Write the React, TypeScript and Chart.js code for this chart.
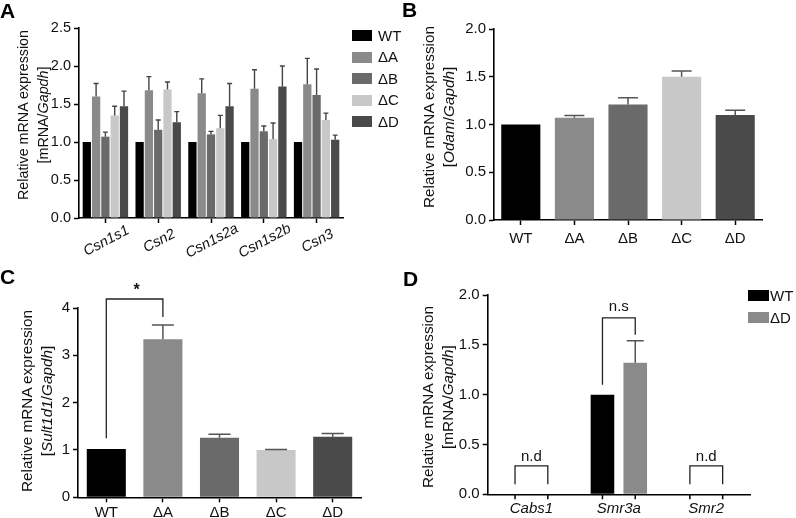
import React, { useEffect, useRef } from 'react';
import { Chart, registerables } from 'chart.js';
Chart.register(...registerables);

const FONT = '"Liberation Sans", Arial, Helvetica, sans-serif';

// ---------- data ----------
const SERIES = ['WT', 'ΔA', 'ΔB', 'ΔC', 'ΔD'];
const COLORS = ['#000000', '#8a8a8a', '#6a6a6a', '#c8c8c8', '#4a4a4a'];

// Panel A
const A_GENES = ['Csn1s1', 'Csn2', 'Csn1s2a', 'Csn1s2b', 'Csn3'];
const A_WT = [1.0, 1.0, 1.0, 1.0, 1.0];
const A_DA = [1.6, 1.68, 1.64, 1.7, 1.76];
const A_DA_ERR = [0.17, 0.18, 0.19, 0.25, 0.34];
const A_DB = [1.07, 1.16, 1.1, 1.14, 1.62];
const A_DB_ERR = [0.06, 0.13, 0.04, 0.07, 0.34];
const A_DC = [1.35, 1.69, 1.18, 1.04, 1.29];
const A_DC_ERR = [0.12, 0.1, 0.17, 0.21, 0.09];
const A_DD = [1.47, 1.26, 1.47, 1.73, 1.03];
const A_DD_ERR = [0.2, 0.14, 0.3, 0.27, 0.06];

// Panel B
const B_VALUES = [1.0, 1.07, 1.21, 1.5, 1.1];
const B_ERR = [0, 0.025, 0.07, 0.06, 0.05];

// Panel C
const C_VALUES = [1.02, 3.34, 1.26, 1.0, 1.28];
const C_ERR = [0, 0.3, 0.07, 0.01, 0.07];
const C_BRACKET_Y = [1.25, 4.19, 3.81]; // left start, top, right end
const C_BRACKET_LABEL_Y = 4.36;

// Panel D
const D_GENES = ['Cabs1', 'Smr3a', 'Smr2'];
const D_SERIES = ['WT', 'ΔD'];
const D_COLORS = ['#000000', '#8a8a8a'];
const D_WT = [0, 1.0, 0];
const D_DD = [0, 1.32, 0];
const D_DD_ERR = [0, 0.22, 0];
const D_NS_Y = [1.1, 1.77, 1.6];
const D_NS_LABEL_Y = 1.88;
const D_ND_Y = [0.1, 0.285, 0.1];
const D_ND_LABEL_Y = 0.38;

// ---------- plugins ----------
const errorBars = {
  id: 'errbars',
  afterDatasetsDraw(chart: any, _a: any, opts: any) {
    const ctx = chart.ctx;
    const ys = chart.scales.y;
    ctx.save();
    ctx.strokeStyle = opts.color || '#444';
    ctx.lineWidth = opts.width || 1.5;
    chart.data.datasets.forEach((ds: any, i: number) => {
      if (!ds.errors) return;
      const meta = chart.getDatasetMeta(i);
      ds.errors.forEach((e: number, j: number) => {
        if (!e) return;
        const el = meta.data[j];
        const v = ds.data[j];
        const y0 = ys.getPixelForValue(v);
        const y1 = ys.getPixelForValue(v + e);
        const cw = (opts.cap || 6) / 2;
        ctx.beginPath();
        ctx.moveTo(el.x, y0);
        ctx.lineTo(el.x, y1);
        ctx.moveTo(el.x - cw, y1);
        ctx.lineTo(el.x + cw, y1);
        ctx.stroke();
      });
    });
    ctx.restore();
  },
};

const brackets = {
  id: 'brackets',
  afterDraw(chart: any, _a: any, opts: any) {
    const ctx = chart.ctx;
    const ys = chart.scales.y;
    (opts.items || []).forEach((b: any) => {
      const x1 = chart.getDatasetMeta(b.a[0]).data[b.a[1]].x;
      const x2 = chart.getDatasetMeta(b.b[0]).data[b.b[1]].x;
      const yl = ys.getPixelForValue(b.y[0]);
      const yt = ys.getPixelForValue(b.y[1]);
      const yr = ys.getPixelForValue(b.y[2]);
      ctx.save();
      ctx.strokeStyle = '#222';
      ctx.lineWidth = 1.3;
      ctx.beginPath();
      ctx.moveTo(x1, yl);
      ctx.lineTo(x1, yt);
      ctx.lineTo(x2, yt);
      ctx.lineTo(x2, yr);
      ctx.stroke();
      ctx.fillStyle = '#111';
      ctx.font = b.font;
      ctx.textAlign = 'center';
      ctx.textBaseline = 'middle';
      ctx.fillText(b.text, (x1 + x2) / 2 + (b.dx || 0), ys.getPixelForValue(b.textY));
      ctx.restore();
    });
  },
};

const slantLabels = {
  id: 'slant',
  afterDraw(chart: any, _a: any, opts: any) {
    if (!opts || !opts.on) return;
    const xs = chart.scales.x;
    const ctx = chart.ctx;
    ctx.save();
    ctx.fillStyle = '#111';
    ctx.font = `italic 14.5px ${FONT}`;
    ctx.textAlign = 'center';
    ctx.textBaseline = 'middle';
    chart.data.labels.forEach((lab: string, i: number) => {
      const x = xs.getPixelForTick(i) + opts.dx;
      const y = xs.top + opts.dy;
      ctx.save();
      ctx.translate(x, y);
      ctx.rotate((-opts.angle * Math.PI) / 180);
      ctx.fillText(lab, 0, 0);
      ctx.restore();
    });
    ctx.restore();
  },
};

const barTicks = {
  id: 'barticks',
  afterDraw(chart: any, _a: any, opts: any) {
    if (!opts || !opts.on) return;
    const xs = chart.scales.x;
    const ctx = chart.ctx;
    ctx.save();
    ctx.strokeStyle = '#000';
    ctx.lineWidth = 1.5;
    chart.data.datasets.forEach((_ds: any, i: number) => {
      chart.getDatasetMeta(i).data.forEach((el: any) => {
        ctx.beginPath();
        ctx.moveTo(el.x, xs.top);
        ctx.lineTo(el.x, xs.top + 5);
        ctx.stroke();
      });
    });
    ctx.restore();
  },
};

// ---------- helpers ----------
function yScale(max: number, step: number, size: number, dec: number) {
  return {
    min: 0,
    max,
    border: { display: true, color: '#000', width: 1.6 },
    grid: { display: true, drawOnChartArea: false, drawTicks: true, tickLength: 5, tickColor: '#000', tickWidth: 1.5 },
    ticks: {
      stepSize: step,
      color: '#111',
      font: { family: FONT, size },
      padding: 3,
      callback: (v: any) => Number(v).toFixed(dec),
    },
    afterFit: (s: any) => {
      s.width = 40;
    },
  };
}

function xScale(height: number, showTicks: boolean, drawTicks: boolean, italic: boolean, padding: number) {
  return {
    type: 'category',
    offset: true,
    border: { display: true, color: '#000', width: 1.6 },
    grid: { display: true, offset: false, drawOnChartArea: false, drawTicks, tickLength: 5, tickColor: '#000', tickWidth: 1.5 },
    ticks: {
      display: showTicks,
      color: '#111',
      font: { family: FONT, size: 15, style: italic ? 'italic' : 'normal' },
      padding,
      maxRotation: 0,
      autoSkip: false,
    },
    afterFit: (s: any) => {
      s.height = height;
    },
  };
}

function useChart(ref: any, makeConfig: () => any) {
  useEffect(() => {
    const chart = new Chart(ref.current, makeConfig());
    return () => chart.destroy();
  }, []);
}

function ChartCanvas({ left, top, width, height, config }: any) {
  const ref = useRef<HTMLCanvasElement>(null);
  useChart(ref, config);
  return <canvas ref={ref} width={width} height={height} style={{ position: 'absolute', left, top, width, height }} />;
}

const commonPlugins = (extra: any) => ({
  legend: { display: false },
  tooltip: { enabled: false },
  ...extra,
});

// ---------- configs ----------
const configA = () => ({
  type: 'bar',
  data: {
    labels: A_GENES,
    datasets: [
      { label: SERIES[0], data: A_WT, backgroundColor: COLORS[0] },
      { label: SERIES[1], data: A_DA, errors: A_DA_ERR, backgroundColor: COLORS[1] },
      { label: SERIES[2], data: A_DB, errors: A_DB_ERR, backgroundColor: COLORS[2] },
      { label: SERIES[3], data: A_DC, errors: A_DC_ERR, backgroundColor: COLORS[3] },
      { label: SERIES[4], data: A_DD, errors: A_DD_ERR, backgroundColor: COLORS[4] },
    ],
  },
  options: {
    responsive: false,
    animation: false,
    layout: { padding: { left: 39, right: 57, top: 28, bottom: 0 } },
    datasets: { bar: { barPercentage: 0.89, categoryPercentage: 0.88 } },
    scales: { x: xScale(44, false, true, true, 3), y: yScale(2.5, 0.5, 14.5, 1) },
    plugins: commonPlugins({
      errbars: { cap: 5, color: '#444', width: 1.4 },
      slant: { on: true, dx: 1, dy: 23, angle: 28 },
    }),
  },
  plugins: [errorBars, slantLabels],
});

const configB = () => ({
  type: 'bar',
  data: {
    labels: SERIES,
    datasets: [{ label: 'Odam', data: B_VALUES, errors: B_ERR, backgroundColor: COLORS }],
  },
  options: {
    responsive: false,
    animation: false,
    layout: { padding: { left: 54, right: 34, top: 29, bottom: 0 } },
    datasets: { bar: { barPercentage: 0.73, categoryPercentage: 1 } },
    scales: { x: xScale(30, true, true, false, 5), y: yScale(2.0, 0.5, 15, 1) },
    plugins: commonPlugins({ errbars: { cap: 20, color: '#555', width: 1.5 } }),
  },
  plugins: [errorBars],
});

const configC = () => ({
  type: 'bar',
  data: {
    labels: SERIES,
    datasets: [{ label: 'Sult1d1', data: C_VALUES, errors: C_ERR, backgroundColor: COLORS }],
  },
  options: {
    responsive: false,
    animation: false,
    layout: { padding: { left: 38, right: 39, top: 58, bottom: 0 } },
    datasets: { bar: { barPercentage: 0.69, categoryPercentage: 1 } },
    scales: { x: xScale(20.7, true, true, false, 2), y: yScale(4, 1, 15, 0) },
    plugins: commonPlugins({
      errbars: { cap: 22, color: '#555', width: 1.5 },
      brackets: {
        items: [
          { a: [0, 0], b: [0, 1], y: C_BRACKET_Y, text: '*', textY: C_BRACKET_LABEL_Y, font: `bold 16px ${FONT}`, dx: 2 },
        ],
      },
    }),
  },
  plugins: [errorBars, brackets],
});

const configD = () => ({
  type: 'bar',
  data: {
    labels: D_GENES,
    datasets: [
      { label: D_SERIES[0], data: D_WT, backgroundColor: D_COLORS[0] },
      { label: D_SERIES[1], data: D_DD, errors: D_DD_ERR, backgroundColor: D_COLORS[1] },
    ],
  },
  options: {
    responsive: false,
    animation: false,
    layout: { padding: { left: 47.7, right: 46, top: 45, bottom: 0 } },
    datasets: { bar: { barPercentage: 0.72, categoryPercentage: 0.75 } },
    scales: { x: xScale(23.7, true, false, true, 6), y: yScale(2.0, 0.5, 15, 1) },
    plugins: commonPlugins({
      errbars: { cap: 17, color: '#555', width: 1.5 },
      barticks: { on: true },
      brackets: {
        items: [
          { a: [0, 0], b: [1, 0], y: D_ND_Y, text: 'n.d', textY: D_ND_LABEL_Y, font: `15px ${FONT}` },
          { a: [0, 1], b: [1, 1], y: D_NS_Y, text: 'n.s', textY: D_NS_LABEL_Y, font: `15px ${FONT}` },
          { a: [0, 2], b: [1, 2], y: D_ND_Y, text: 'n.d', textY: D_ND_LABEL_Y, font: `15px ${FONT}` },
        ],
      },
    }),
  },
  plugins: [errorBars, brackets, barTicks],
});

// ---------- html bits ----------
function YTitle({ cx, cy, size, children }: any) {
  return (
    <div
      style={{
        position: 'absolute',
        left: cx,
        top: cy,
        transform: 'translate(-50%,-50%) rotate(-90deg)',
        whiteSpace: 'nowrap',
        textAlign: 'center',
        fontSize: size,
        lineHeight: '20px',
        color: '#111',
      }}
    >
      Relative mRNA expression
      <br />[{children}]
    </div>
  );
}

function PanelLetter({ x, y, t }: any) {
  return (
    <div style={{ position: 'absolute', left: x, top: y, fontSize: 21, fontWeight: 'bold', lineHeight: '21px', color: '#000' }}>{t}</div>
  );
}

function Legend({ x, y0, gap, names, colors, tx, bw }: any) {
  return (
    <>
      {names.map((n: string, i: number) => (
        <React.Fragment key={n}>
          <div style={{ position: 'absolute', left: x, top: y0 + i * gap - 5.5, width: bw, height: 11, background: colors[i] }} />
          <div style={{ position: 'absolute', left: tx, top: y0 + i * gap - 9, fontSize: 15, lineHeight: '18px', color: '#111' }}>{n}</div>
        </React.Fragment>
      ))}
    </>
  );
}

export default function App() {
  return (
    <div style={{ position: 'absolute', left: 0, top: 0, width: 796, height: 518, background: '#fff', fontFamily: FONT, overflow: 'hidden' }}>
      <ChartCanvas left={0} top={0} width={400} height={262} config={configA} />
      <ChartCanvas left={400} top={0} width={396} height={250} config={configB} />
      <ChartCanvas left={0} top={250} width={400} height={268} config={configC} />
      <ChartCanvas left={400} top={250} width={396} height={268} config={configD} />

      <PanelLetter x={0} y={0} t="A" />
      <PanelLetter x={402} y={-1} t="B" />
      <PanelLetter x={0} y={266} t="C" />
      <PanelLetter x={403} y={268} t="D" />

      <YTitle cx={32.5} cy={115} size={14.3}>
        mRNA/<i>Gapdh</i>
      </YTitle>
      <YTitle cx={439} cy={117} size={15.3}>
        <i>Odam</i>/<i>Gapdh</i>
      </YTitle>
      <YTitle cx={37} cy={401} size={15.3}>
        <i>Sult1d1</i>/<i>Gapdh</i>
      </YTitle>
      <YTitle cx={437.5} cy={397} size={15.3}>
        mRNA/<i>Gapdh</i>
      </YTitle>

      <Legend x={352} y0={35.7} gap={21.5} names={SERIES} colors={COLORS} tx={378} bw={20} />
      <Legend x={748} y0={295.5} gap={22} names={D_SERIES} colors={D_COLORS} tx={770} bw={21} />
    </div>
  );
}
